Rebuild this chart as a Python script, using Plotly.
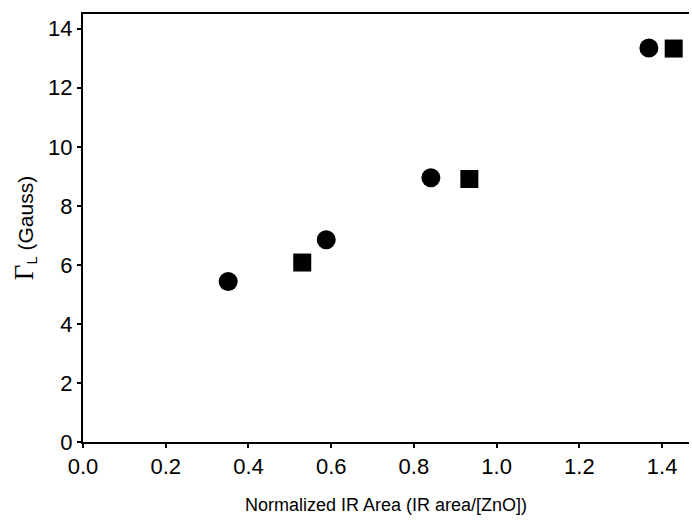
import plotly.graph_objects as go

circle_x = [0.351, 0.588, 0.841, 1.368]
circle_y = [5.44, 6.85, 8.95, 13.35]
square_x = [0.530, 0.934, 1.428]
square_y = [6.08, 8.91, 13.33]

x_ticks = [0.0, 0.2, 0.4, 0.6, 0.8, 1.0, 1.2, 1.4]
x_ticklabels = ["0.0", "0.2", "0.4", "0.6", "0.8", "1.0", "1.2", "1.4"]
y_ticks = [0, 2, 4, 6, 8, 10, 12, 14]

fig = go.Figure()
fig.add_trace(go.Scatter(x=circle_x, y=circle_y, mode="markers",
                         marker=dict(symbol="circle", size=19, color="black"),
                         showlegend=False, cliponaxis=False))
fig.add_trace(go.Scatter(x=square_x, y=square_y, mode="markers",
                         marker=dict(symbol="square", size=18, color="black"),
                         showlegend=False, cliponaxis=False))

font_family = "Liberation Sans, Arial, sans-serif"
fig.update_layout(
    width=692, height=521,
    margin=dict(l=83, r=3, t=14, b=79),
    paper_bgcolor="white", plot_bgcolor="white",
    font=dict(family=font_family, color="black", size=22),
    xaxis=dict(range=[0, 1.465], tickvals=x_ticks, ticktext=x_ticklabels,
               showline=True, linecolor="black", linewidth=2, mirror=True,
               ticks="outside", ticklen=4, tickwidth=2, tickcolor="black",
               showgrid=False, zeroline=False,
               title=dict(text="Normalized IR Area (IR area/[ZnO])",
                          font=dict(size=18, family=font_family), standoff=20)),
    yaxis=dict(range=[0, 14.5], tickvals=y_ticks,
               showline=True, linecolor="black", linewidth=2,
               ticks="outside", ticklen=4, tickwidth=2, tickcolor="black",
               showgrid=False, zeroline=False,
               title=dict(text="<span style=\"font-family:Liberation Serif;font-size:27px\">Γ</span><sub>L</sub> (Gauss)",
                          font=dict(size=21, family=font_family), standoff=9)),
)
fig.write_html("out.html", config={"displayModeBar": False},
               post_script="document.body.style.margin='0';")
